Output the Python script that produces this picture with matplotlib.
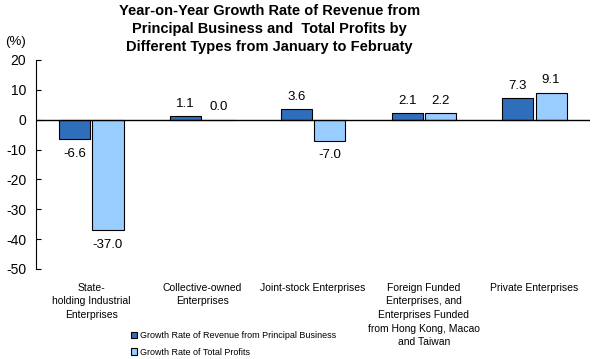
import matplotlib.pyplot as plt
import numpy as np

plt.rcParams['font.family'] = ['Liberation Sans', 'DejaVu Sans']

categories = [
    "State-\nholding Industrial\nEnterprises",
    "Collective-owned\nEnterprises",
    "Joint-stock Enterprises",
    "Foreign Funded\nEnterprises, and\nEnterprises Funded\nfrom Hong Kong, Macao\nand Taiwan",
    "Private Enterprises",
]
revenue = [-6.6, 1.1, 3.6, 2.1, 7.3]
profits = [-37.0, 0.0, -7.0, 2.2, 9.1]
series_names = [
    "Growth Rate of Revenue from Principal Business",
    "Growth Rate of Total Profits",
]
yticks = [20, 10, 0, -10, -20, -30, -40, -50]

fig = plt.figure(figsize=(5.94, 3.59), dpi=100)
ax = fig.add_axes([0.0606, 0.2507, 0.9324, 0.5823])

x = np.arange(len(categories))
w = 0.28
b1 = ax.bar(x - w / 2 - 0.01, revenue, w, color="#2F6EBA", edgecolor="black", linewidth=0.8,
            label=series_names[0])
b2 = ax.bar(x + w / 2 + 0.01, profits, w, color="#99CCFF", edgecolor="black", linewidth=0.8,
            label=series_names[1])

for bars, vals in ((b1, revenue), (b2, profits)):
    for bar, v in zip(bars, vals):
        cx = bar.get_x() + bar.get_width() / 2
        if v < 0:
            ax.annotate(f"{v:.1f}", (cx, v), xytext=(0, -6), textcoords="offset points",
                        ha="center", va="top", fontsize=9.5)
        else:
            ax.annotate(f"{v:.1f}", (cx, v), xytext=(0, 4.5), textcoords="offset points",
                        ha="center", va="bottom", fontsize=9.5)

ax.set_xlim(-0.5, len(categories) - 0.5)
ax.set_ylim(-50, 20)
ax.set_yticks(yticks)
ax.set_yticklabels([str(t) for t in yticks], fontsize=10)
ax.tick_params(axis="y", direction="in", length=3.5, width=0.8, pad=7)
ax.set_xticks(x)
ax.set_xticklabels(categories, fontsize=7.5, linespacing=1.45, va="top")
ax.tick_params(axis="x", length=0, pad=10)
ax.axhline(0, color="black", linewidth=1)

for s in ("top", "right", "bottom"):
    ax.spines[s].set_visible(False)
ax.spines["left"].set_linewidth(0.8)

ax.text(-0.056, 1.086, "(%)", transform=ax.transAxes, fontsize=9.5, ha="left", va="center")

fig.text(0.453, 0.99, "Year-on-Year Growth Rate of Revenue from\nPrincipal Business and  Total Profits by\n"
         "Different Types from January to Februaty",
         fontsize=10.5, fontweight="bold", ha="center", va="top", linespacing=1.4)

ax.legend(loc="upper left", bbox_to_anchor=(0.165, -0.28), frameon=False, fontsize=6.5,
          handlelength=0.7, handleheight=0.7, handletextpad=0.3, labelspacing=0.85,
          borderaxespad=0)

fig.savefig("out.png", dpi=100)
